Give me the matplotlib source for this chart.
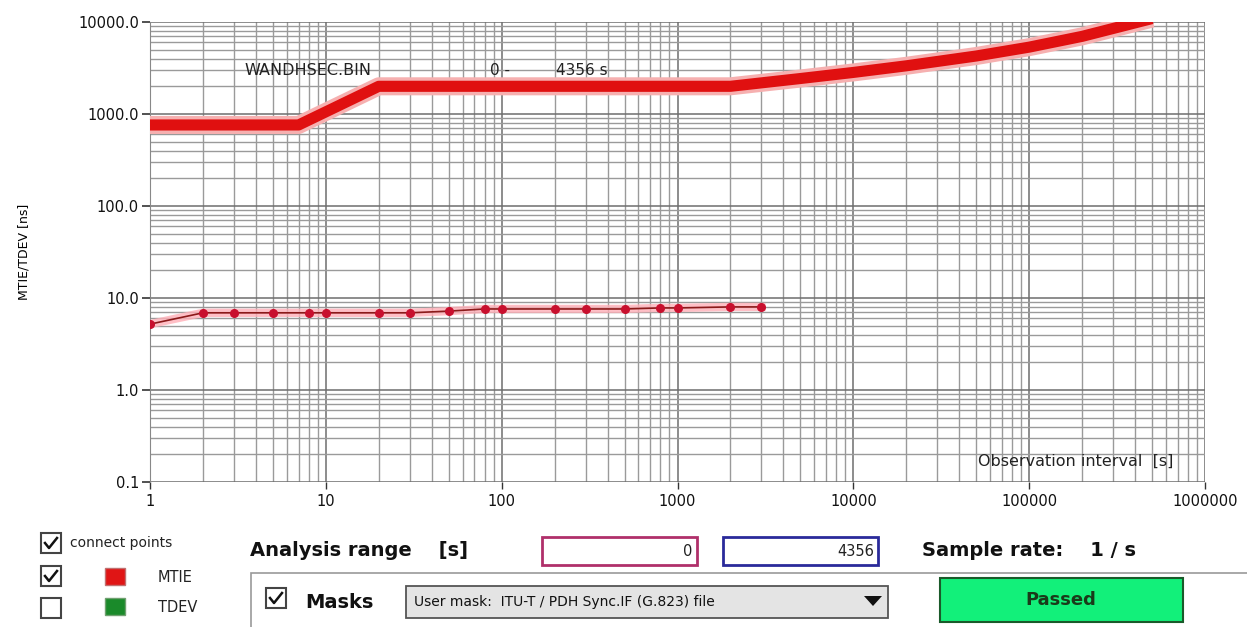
import matplotlib
matplotlib.use('Agg')
from matplotlib import pyplot as plt
from matplotlib.patches import Rectangle, Polygon
from matplotlib.ticker import FixedLocator, FixedFormatter, LogLocator, NullFormatter

# mask (G.823 PDH sync interface, MTIE limit)
mask_tau = [1, 7, 20, 2000, 5000, 10000, 20000, 50000, 100000, 200000, 500000]
mask_ns = [760, 760, 2000, 2000, 2430, 2830, 3340, 4270, 5330, 6980, 10900]

# measured MTIE points
tau = [1, 2, 3, 5, 8, 10, 20, 30, 50, 80, 100, 200, 300, 500, 800, 1000, 2000, 3000]
mtie = [5.2, 6.9, 6.9, 6.9, 6.9, 6.9, 6.9, 6.9, 7.2, 7.6, 7.6, 7.6, 7.6, 7.6, 7.8, 7.8, 8.0, 8.0]

xticks = [1, 10, 100, 1000, 10000, 100000, 1000000]
xlabels = ['1', '10', '100', '1000', '10000', '100000', '1000000']
yticks = [0.1, 1, 10, 100, 1000, 10000]
ylabels = ['0.1', '1.0', '10.0', '100.0', '1000.0', '10000.0']

W, H = 1247, 627
fig = plt.figure(figsize=(W / 100, H / 100), dpi=100)

# main chart
ax = fig.add_axes([150 / W, 1 - 482 / H, 1055 / W, 460 / H])
ax.set_xscale('log')
ax.set_yscale('log')
ax.set_xlim(1, 1000000)
ax.set_ylim(0.1, 10000)

ax.xaxis.set_major_locator(FixedLocator(xticks))
ax.xaxis.set_major_formatter(FixedFormatter(xlabels))
ax.xaxis.set_minor_locator(LogLocator(base=10, subs=range(2, 10), numticks=20))
ax.xaxis.set_minor_formatter(NullFormatter())
ax.yaxis.set_major_locator(FixedLocator(yticks))
ax.yaxis.set_major_formatter(FixedFormatter(ylabels))
ax.yaxis.set_minor_locator(LogLocator(base=10, subs=range(2, 10), numticks=20))
ax.yaxis.set_minor_formatter(NullFormatter())

ax.grid(True, which='major', color='#6e6e6e', linewidth=1.1)
ax.grid(True, which='minor', color='#9a9a9a', linewidth=1.0)
for s in ['top', 'right', 'bottom']:
    ax.spines[s].set_visible(False)
ax.spines['left'].set_color('#888888')
ax.tick_params(axis='y', which='major', length=6, width=1.2, color='#333333',
               labelsize=10.5, pad=2, labelcolor='#111111')
ax.tick_params(axis='x', which='major', length=5, width=1, color='#333333',
               labelsize=10.5, pad=4, labelcolor='#111111')
ax.tick_params(which='minor', length=0)
ax.set_ylabel('MTIE/TDEV [ns]', fontsize=9, labelpad=34)

# mask line with halo
ax.plot(mask_tau, mask_ns, color='#f6b0b0', linewidth=13, solid_capstyle='butt', zorder=3)
ax.plot(mask_tau, mask_ns, color='#e01010', linewidth=8, solid_capstyle='butt', zorder=4)

# measured curve
ax.plot(tau, mtie, color='#ffb0b8', linewidth=6, alpha=0.8, zorder=3)
ax.plot(tau, mtie, color='#8b1a1a', linewidth=1.2, zorder=4)
ax.plot(tau, mtie, 'o', color='#c8102e', markersize=5.5, zorder=5)

ax.text(0.09, 0.895, 'WANDHSEC.BIN', transform=ax.transAxes, fontsize=11.5,
        color='#222222', va='center')
ax.text(0.322, 0.895, '0 -', transform=ax.transAxes, fontsize=11,
        color='#222222', va='center')
ax.text(0.385, 0.895, '4356 s', transform=ax.transAxes, fontsize=11,
        color='#222222', va='center')
ax.text(0.97, 0.045, 'Observation interval  [s]', transform=ax.transAxes,
        fontsize=11.5, color='#222222', ha='right', va='center')

# control panel drawn in pixel coordinates
ui = fig.add_axes([0, 0, 1, 1])
ui.set_xlim(0, W)
ui.set_ylim(H, 0)
ui.axis('off')
ui.patch.set_alpha(0)


def checkbox(x, y, checked):
    ui.add_patch(Rectangle((x, y), 20, 20, facecolor='white', edgecolor='#444444', linewidth=1.5))
    if checked:
        ui.plot([x + 4, x + 8, x + 16], [y + 10, y + 15, y + 5], color='#111111', linewidth=1.8)


checkbox(41, 533, True)
ui.text(70, 543, 'connect points', fontsize=10, color='#222222', va='center')
checkbox(41, 566, True)
ui.add_patch(Rectangle((105, 568), 20, 17, facecolor='#e01515', edgecolor='#c07070', linewidth=1))
ui.text(158, 578, 'MTIE', fontsize=10.5, color='#222222', va='center')
checkbox(41, 598, False)
ui.add_patch(Rectangle((105, 598), 20, 17, facecolor='#1a8a2a', edgecolor='#70a070', linewidth=1))
ui.text(158, 607, 'TDEV', fontsize=10.5, color='#222222', va='center')

ui.text(250, 551, 'Analysis range    [s]', fontsize=14, fontweight='bold',
        color='#111111', va='center')
ui.add_patch(Rectangle((542, 537), 155, 28, facecolor='white', edgecolor='#b0306a', linewidth=2))
ui.text(692, 551, '0', fontsize=10.5, color='#222222', va='center', ha='right')
ui.add_patch(Rectangle((723, 537), 155, 28, facecolor='white', edgecolor='#2a2a9a', linewidth=2))
ui.text(874, 551, '4356', fontsize=10.5, color='#222222', va='center', ha='right')
ui.text(922, 551, 'Sample rate:    1 / s', fontsize=14, fontweight='bold',
        color='#111111', va='center')

# masks group
ui.add_patch(Rectangle((251, 573), 1000, 60, facecolor='white', edgecolor='#999999', linewidth=1.2))
checkbox(266, 588, True)
ui.text(305, 602, 'Masks', fontsize=14, fontweight='bold', color='#111111', va='center')
ui.add_patch(Rectangle((406, 586), 482, 32, facecolor='#e4e4e4', edgecolor='#555555', linewidth=1.3))
ui.text(414, 602, 'User mask:  ITU-T / PDH Sync.IF (G.823) file', fontsize=10,
        color='#111111', va='center')
ui.add_patch(Polygon([[864, 596], [882, 596], [873, 606]], closed=True, facecolor='#111111'))
ui.add_patch(Rectangle((940, 578), 243, 44, facecolor='#12f07a', edgecolor='#1a5a2a', linewidth=1.5))
ui.text(1061, 600, 'Passed', fontsize=13, fontweight='bold', color='#1a3a1a',
        va='center', ha='center')

fig.savefig('out.png', dpi=100)
